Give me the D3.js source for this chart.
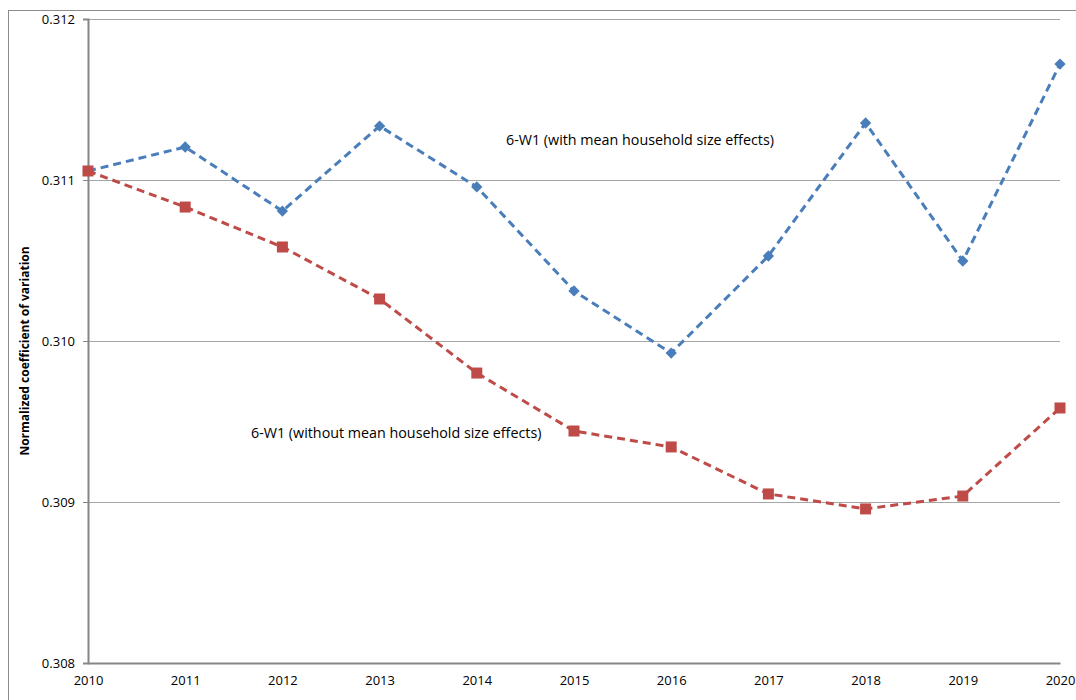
<!DOCTYPE html>
<html>
<head>
<meta charset="utf-8">
<script src="https://cdn.jsdelivr.net/npm/d3@7"></script>
<style>
  html, body { margin: 0; padding: 0; background: #fff; }
  svg { display: block; }
  text { font-family: "Open Sans", "Liberation Sans", sans-serif; fill: #000; }
</style>
</head>
<body>
<svg id="chart" width="1076" height="700"></svg>
<script>
const years = [2010, 2011, 2012, 2013, 2014, 2015, 2016, 2017, 2018, 2019, 2020];
const withEffects = [0.311056, 0.311205, 0.310807, 0.311335, 0.310957, 0.310311, 0.309925, 0.310528, 0.311354, 0.310497, 0.311720];
const withoutEffects = [0.311056, 0.310832, 0.310584, 0.310261, 0.309801, 0.309441, 0.309342, 0.309050, 0.308957, 0.309037, 0.309584];
const yTicks = [0.308, 0.309, 0.310, 0.311, 0.312];
const yTitle = "Normalized coefficient of variation";
const labelWith = "6-W1 (with mean household size effects)";
const labelWithout = "6-W1 (without mean household size effects)";

const svg = d3.select("#chart");
const mLeft = 88, mRight = 1060, mTop = 19, mBottom = 663;

// outer chart border
svg.append("rect").attr("x", 8.5).attr("y", 10.5).attr("width", 1100).attr("height", 720)
  .attr("fill", "none").attr("stroke", "#8c8c8c").attr("stroke-width", 1);

const x = d3.scaleLinear().domain([2010, 2020]).range([mLeft, mRight]);
const y = d3.scaleLinear().domain([0.308, 0.312]).range([mBottom, mTop]);

// gridlines
svg.append("g").selectAll("line").data(yTicks.slice(1)).join("line")
  .attr("x1", mLeft).attr("x2", mRight)
  .attr("y1", d => Math.round(y(d)) + 0.5).attr("y2", d => Math.round(y(d)) + 0.5)
  .attr("stroke", "#a6a6a6").attr("stroke-width", 1);

// y axis
const yAxis = d3.axisLeft(y).tickValues(yTicks).tickFormat(d3.format(".3f")).tickSize(5).tickPadding(8);
const gy = svg.append("g").attr("transform", `translate(${mLeft},0)`).call(yAxis);
gy.select(".domain").attr("stroke", "#868686").attr("stroke-width", 2);
gy.selectAll(".tick line").attr("stroke", "#868686").attr("stroke-width", 1);
gy.selectAll(".tick text").style("font-size", "13px").style("font-family", "'Open Sans', sans-serif").attr("fill", "#000");

// x axis
const xAxis = d3.axisBottom(x).tickValues(years).tickFormat(d3.format("d")).tickSize(0).tickPadding(13);
const gx = svg.append("g").attr("transform", `translate(0,${mBottom})`).call(xAxis);
gx.select(".domain").attr("stroke", "#868686").attr("stroke-width", 2);
gx.selectAll(".tick text").style("font-size", "13px").style("font-family", "'Open Sans', sans-serif").attr("fill", "#000");

// y title
svg.append("text")
  .attr("transform", `translate(29,${(mTop + mBottom) / 2 + 10}) rotate(-90)`)
  .attr("text-anchor", "middle")
  .style("font-size", "12px").style("font-weight", "bold")
  .text(yTitle);

const line = d3.line().x((d, i) => x(years[i])).y(d => y(d));

function drawSeries(values, color, marker) {
  svg.append("path").datum(values)
    .attr("d", line).attr("fill", "none")
    .attr("stroke", color).attr("stroke-width", 3)
    .attr("stroke-dasharray", "8,5");
  const isSquare = marker === "square";
  const sym = d3.symbol().type(d3.symbolSquare).size(isSquare ? 121 : 64);
  svg.append("g").selectAll("path").data(values).join("path")
    .attr("transform", (d, i) => `translate(${x(years[i])},${y(d)})` + (isSquare ? "" : " rotate(45)"))
    .attr("d", sym)
    .attr("fill", color);
}

drawSeries(withEffects, "#4a7ebb", "diamond");
drawSeries(withoutEffects, "#be4b48", "square");

// series annotations
svg.append("text").attr("x", 506).attr("y", 145)
  .style("font-size", "14.3px").text(labelWith);
svg.append("text").attr("x", 251).attr("y", 438)
  .style("font-size", "14.3px").text(labelWithout);
</script>
</body>
</html>
